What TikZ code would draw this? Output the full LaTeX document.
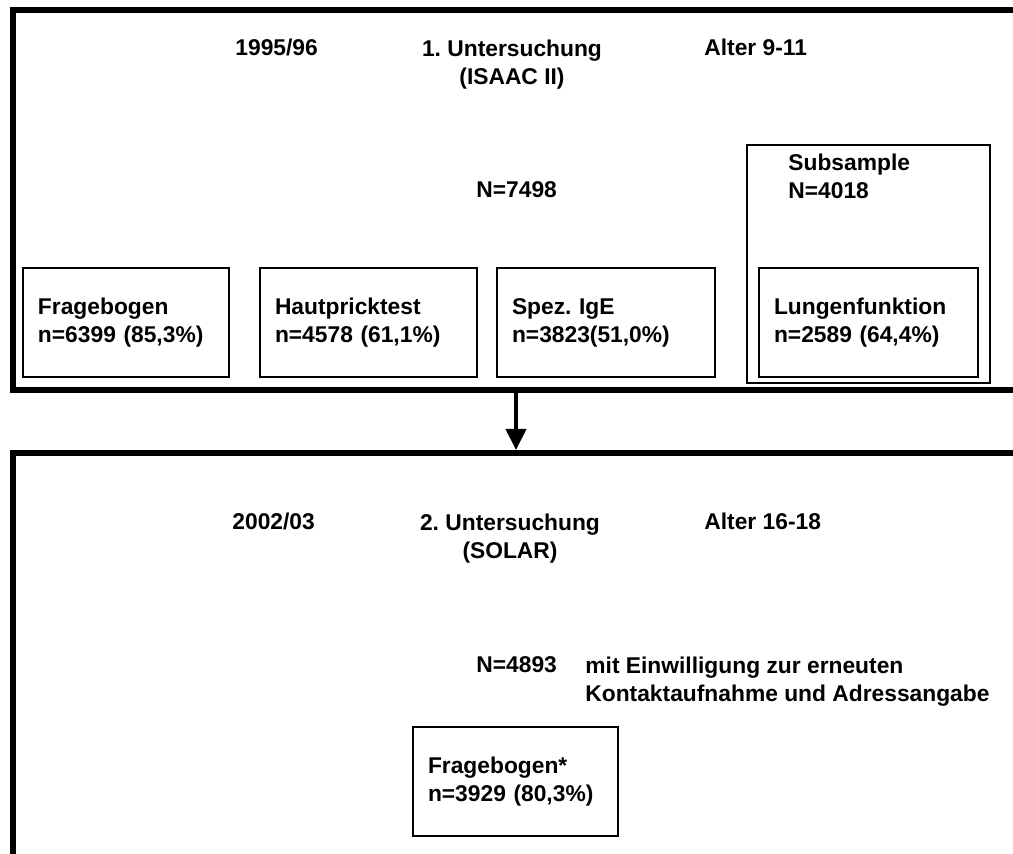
\documentclass[tikz,border=0pt]{standalone}
\usepackage{fontspec}
\setmainfont{Liberation Sans}
\usepackage{tikz}
\usetikzlibrary{positioning,calc,arrows.meta}
\frenchspacing
\tikzstyle{schrift}=[font=\bfseries\fontsize{11.4}{14}\selectfont]
\tikzstyle{txt}=[schrift, inner sep=0pt]
\tikzstyle{kasten}=[schrift, draw, line width=1pt, align=left, inner xsep=7.5pt, minimum height=54.5pt]
\tikzstyle{rahmen}=[line width=3pt]
\tikzstyle{pfeil}=[line width=2pt, -{Triangle[width=10pt,length=10.5pt]}, shorten <=1.5pt, shorten >=1.5pt]

\begin{document}
\begin{tikzpicture}[x=0.5pt, y=-0.5pt]
				\useasboundingbox (0,0) rectangle (1013,854);
				\clip (0,0) rectangle (1013,854);
				% erste Untersuchung
				\draw[rahmen] (13,10) rectangle (1040,390);
				\node[txt, anchor=base west] (jahr1) at (235,56) {1995/96};
				\node[txt, anchor=north, align=center] (unters1) at (512,40) {1. Untersuchung\\(ISAAC II)};
				\node[txt, anchor=base west] (alter1) at (704,56) {Alter 9-11};
				\node[txt, anchor=base west] (n1) at (476,198) {N=7498};
				\node[draw, line width=1.2pt, minimum width=121.5pt, minimum height=119pt] (sub) at (868.5,264) {};
				\node[txt, anchor=north west, align=left] (subtxt) at (788,154) {Subsample\\N=4018};
				\node[kasten, text width=88pt] (frage1) at (126,322.5) {Fragebogen\\n=6399 (85,3\%)};
				\node[kasten, text width=93.5pt] (haut) at (368.5,322.5) {Hautpricktest\\n=4578 (61,1\%)};
				\node[kasten, text width=94pt] (ige) at (606,322.5) {Spez. IgE\\n=3823(51,0\%)};
				\node[kasten, text width=94.5pt] (lunge) at (868.5,322.5) {Lungenfunktion\\n=2589 (64,4\%)};
				% Pfeil
				\coordinate (von) at (516,390);
				\coordinate (nach) at (516,453);
				\draw[pfeil] (von) -- (nach);
				% zweite Untersuchung
				\draw[rahmen] (13,453) rectangle (1040,900);
				\node[txt, anchor=base west] (jahr2) at (232,530) {2002/03};
				\node[txt, anchor=north, align=center] (unters2) at (510,514) {2. Untersuchung\\(SOLAR)};
				\node[txt, anchor=base west] (alter2) at (704,530) {Alter 16-18};
				\node[txt, anchor=base west] (n2) at (476,673) {N=4893};
				\node[txt, anchor=north west, align=left] (einw) at (585,657) {mit Einwilligung zur erneuten\\Kontaktaufnahme und Adressangabe};
				\node[kasten, text width=87.5pt] (frage2) at (515.5,781.5) {Fragebogen*\\n=3929 (80,3\%)};
			\end{tikzpicture}
\end{document}
